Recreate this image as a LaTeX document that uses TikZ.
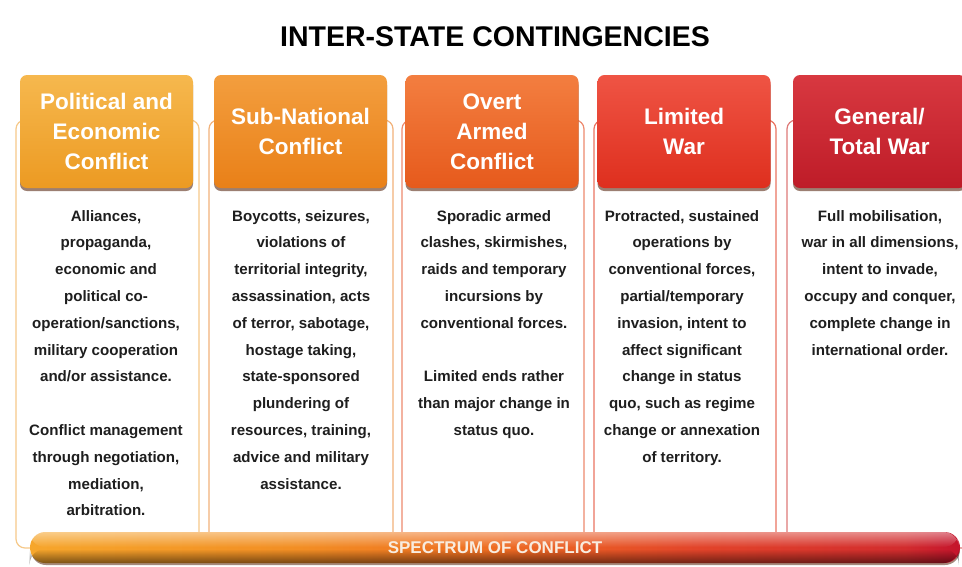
\documentclass[tikz,border=0pt]{standalone}
\usepackage{fontspec}
\setmainfont{Liberation Sans}
\usetikzlibrary{shadows,fadings}
\definecolor{txtc}{HTML}{1E1E1E}
\definecolor{h1t}{HTML}{F6B84E}\definecolor{h1b}{HTML}{EC9A22}
\definecolor{h2t}{HTML}{F39E3E}\definecolor{h2b}{HTML}{E98018}
\definecolor{h3t}{HTML}{F37E40}\definecolor{h3b}{HTML}{E65A1C}
\definecolor{h4t}{HTML}{EF5444}\definecolor{h4b}{HTML}{DE2F1E}
\definecolor{h5t}{HTML}{D83840}\definecolor{h5b}{HTML}{BE1C28}
\definecolor{p1}{HTML}{F6C98A}
\definecolor{p2}{HTML}{F2B27A}
\definecolor{p3}{HTML}{EE8A6E}
\definecolor{p4}{HTML}{EA7462}
\definecolor{p5}{HTML}{DE7A78}
\definecolor{s0}{HTML}{F6A62C}
\definecolor{s1}{HTML}{F28E24}
\definecolor{s2}{HTML}{EE6C22}
\definecolor{s3}{HTML}{E2442A}
\definecolor{s4}{HTML}{D22C2E}
\definecolor{s5}{HTML}{C4142C}
\definecolor{spectxt}{HTML}{F8ECDF}
\definecolor{shadowc}{HTML}{5A2A14}
\pgfdeclarehorizontalshading{spec}{100bp}{color(0bp)=(s0); color(25bp)=(s0); color(39.5bp)=(s1); color(50bp)=(s2); color(61bp)=(s3); color(72bp)=(s4); color(75bp)=(s5); color(100bp)=(s5)}
\tikzfading[name=hlfade, top color=transparent!55, bottom color=transparent!100]
\tikzfading[name=dkfade, top color=transparent!100, bottom color=transparent!50]
\newcommand\hdrfont{\fontsize{22.5}{30}\selectfont\bfseries}
\newcommand\bodyfont{\fontsize{15.1}{17}\selectfont\bfseries}
\newcommand\bodycol[3]{\foreach \ltext [count=\i] in {#3}{\node[bodytxt] (#1-\i) at (#2,{221+26.8*(\i-1)}) {\ltext};}}
\tikzset{
  hdr/.style={rounded corners=7pt, minimum width=173pt, minimum height=113pt, inner sep=0pt,
    align=center, text=white, font=\hdrfont,
    drop shadow={shadow xshift=0pt, shadow yshift=-3pt, opacity=.6, fill=shadowc}},
  panel/.style={line width=1.2pt, rounded corners=9pt},
  bodytxt/.style={anchor=base, inner sep=0pt, font=\bodyfont, text=txtc},
}
\begin{document}
\begin{tikzpicture}[x=1pt,y=-1pt]
\useasboundingbox (0,0) rectangle (962,566);
\clip (0,0) rectangle (962,566);
\fill[white] (0,0) rectangle (962,566);
% title
\node[font=\fontsize{28.5}{32}\selectfont\bfseries, inner sep=0pt] (title) at (495,37) {INTER-STATE CONTINGENCIES};
% panels
\draw[panel, draw=p1] (16,120) rectangle (199,548);
\draw[panel, draw=p2] (209,120) rectangle (393,548);
\draw[panel, draw=p3] (402,120) rectangle (584,548);
\draw[panel, draw=p4] (594,120) rectangle (776,548);
\draw[panel, draw=p5] (787,120) rectangle (972,548);
% headers
\node[hdr, top color=h1t, bottom color=h1b] (h1) at (106.5,131.5) {Political and\\Economic\\Conflict};
\node[hdr, top color=h2t, bottom color=h2b] (h2) at (300.5,131.5) {Sub-National\\Conflict};
\node[hdr, top color=h3t, bottom color=h3b] (h3) at (492,131.5) {Overt\\Armed\\Conflict};
\node[hdr, top color=h4t, bottom color=h4b] (h4) at (684,131.5) {Limited\\War};
\node[hdr, top color=h5t, bottom color=h5b] (h5) at (879.5,131.5) {General/\\Total War};
% body texts
\bodycol{b1}{106}{{Alliances,},{propaganda,},{economic and},{political co-},{operation/sanctions,},{military cooperation},{and/or assistance.},{},{Conflict management},{through negotiation,},{mediation,},{arbitration.}}
\bodycol{b2}{301}{{Boycotts, seizures,},{violations of},{territorial integrity,},{assassination, acts},{of terror, sabotage,},{hostage taking,},{state-sponsored},{plundering of},{resources, training,},{advice and military},{assistance.}}
\bodycol{b3}{494}{{Sporadic armed},{clashes, skirmishes,},{raids and temporary},{incursions by},{conventional forces.},{},{Limited ends rather},{than major change in},{status quo.}}
\bodycol{b4}{682}{{Protracted, sustained},{operations by},{conventional forces,},{partial/temporary},{invasion, intent to},{affect significant},{change in status},{quo, such as regime},{change or annexation},{of territory.}}
\bodycol{b5}{880}{{Full mobilisation,},{war in all dimensions,},{intent to invade,},{occupy and conquer,},{complete change in},{international order.}}
% spectrum bar
\fill[shadowc, opacity=.55, rounded corners=15pt] (31,535) rectangle (960,565);
\shade[shading=spec, rounded corners=15.5pt] (30,532) rectangle (960,563);
\fill[white, path fading=hlfade, rounded corners=15.5pt] (30,532) rectangle (960,547);
\fill[black, path fading=dkfade, rounded corners=15.5pt] (30,549) rectangle (960,563);
\node[font=\fontsize{17}{20}\selectfont\bfseries, text=spectxt, inner sep=0pt] (spec) at (495,547.5) {SPECTRUM OF CONFLICT};
\end{tikzpicture}
\end{document}
